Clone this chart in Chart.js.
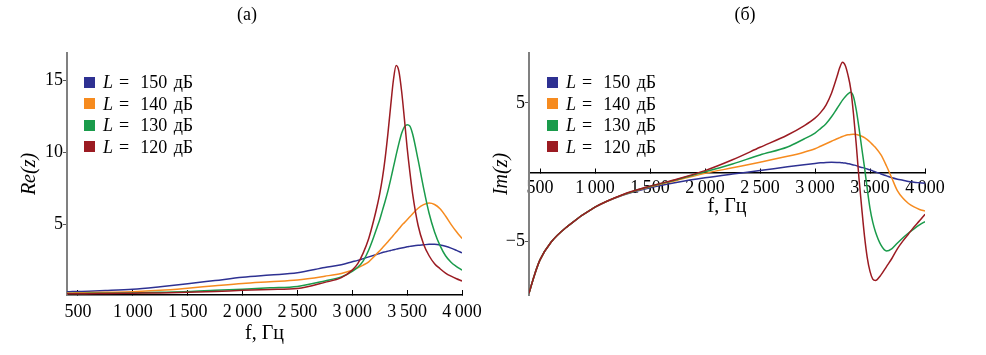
<!DOCTYPE html>
<html><head><meta charset="utf-8">
<script src="https://cdn.jsdelivr.net/npm/chart.js@4.4.1/dist/chart.umd.min.js"></script>
<style>
html,body{margin:0;padding:0;background:#fff;overflow:hidden}
#wrap{position:relative;width:986px;height:355px;background:#fff}
#c1{position:absolute;left:0;top:0}
#c2{position:absolute;left:490px;top:0}
.legend{position:absolute;top:0;font-family:"Liberation Serif",serif;font-size:18px;color:#000}
.row{position:absolute;left:0;height:20px;line-height:20px;white-space:nowrap}
.sw{position:absolute;left:0;top:4.5px;width:11px;height:11px}
.tx{position:absolute;left:19px;top:0;word-spacing:2px}
.eq{margin:0 11px 0 6px}
</style></head>
<body><div id="wrap">
<canvas id="c1" width="490" height="355"></canvas>
<canvas id="c2" width="496" height="355"></canvas>
<div id="lg1" class="legend" style="left:84px"></div>
<div id="lg2" class="legend" style="left:547px"></div>
</div>
<script>
// ---- data ----
const freqs = [400,450,500,600,750,1000,1250,1500,1750,2000,2250,2500,2750,2900,3000,3050,3100,3150,3200,3225,3250,3275,3300,3325,3350,3375,3400,3425,3450,3475,3500,3525,3550,3600,3650,3700,3750,3800,3850,3900,3950,4000];
const levels = [150, 140, 130, 120];
const seriesColors = ['#2E3192', '#F68B1F', '#1A9B4B', '#9B1B22'];

const re150 = [0.3,0.31,0.32,0.34,0.38, 0.47,0.65,0.86,1.08,1.3, 1.46,1.62,1.98,2.18,2.38, 2.48,2.6,2.72,2.84,2.9, 2.96,3.02,3.07,3.12,3.17, 3.21,3.26,3.3,3.34,3.38, 3.42,3.45,3.48,3.53,3.56, 3.59,3.59,3.55,3.46,3.33, 3.17,3.0];
const re140 = [0.22,0.22,0.23,0.24,0.26, 0.3,0.4,0.55,0.72,0.88, 1.0,1.12,1.38,1.57,1.8, 1.96,2.15,2.38,2.75,2.95, 3.15,3.36,3.57,3.78,4.0, 4.22,4.45,4.67,4.9,5.1, 5.3,5.5,5.72,6.1,6.35, 6.46,6.36,6.06,5.56,4.98, 4.46,4.0];
const re130 = [0.18,0.18,0.18,0.19,0.2, 0.22,0.26,0.31,0.4,0.48, 0.57,0.67,1.05,1.33,1.72, 2.0,2.45,3.2,4.2,4.75, 5.3,5.95,6.6,7.3,8.1, 8.95,9.8,10.6,11.3,11.75, 11.9,11.8,11.25,9.45,7.5, 5.75,4.45,3.5,2.8,2.35, 2.05,1.8];
const re120 = [0.16,0.16,0.16,0.17,0.18, 0.2,0.22,0.26,0.32,0.4, 0.46,0.52,0.95,1.28,1.8, 2.25,3.0,4.0,5.4,6.2, 7.1,8.2,9.6,11.3,13.2, 15.0,16.0,15.6,14.2,12.3, 10.3,8.6,7.1,4.9,3.6, 2.8,2.25,1.9,1.6,1.38, 1.2,1.05];

const im150 = [-8.72,-7.4,-6.32,-5.05,-3.9, -2.52,-1.66,-1.12,-0.72,-0.4, -0.13,0.12,0.4,0.55,0.64, 0.68,0.71,0.72,0.71,0.7, 0.68,0.66,0.62,0.58,0.53, 0.48,0.4,0.35,0.3,0.23, 0.17,0.1,0.03,-0.12,-0.26, -0.4,-0.5,-0.58,-0.67,-0.72, -0.76,-0.8];
const im140 = [-8.72,-7.4,-6.32,-5.05,-3.9, -2.52,-1.64,-1.05,-0.57,-0.08, 0.32,0.72,1.15,1.45,1.7, 1.88,2.06,2.24,2.42,2.5, 2.58,2.65,2.7,2.73,2.74, 2.72,2.67,2.6,2.5,2.35, 2.18,1.98,1.78,1.25,0.45, -0.45,-1.35,-1.88,-2.25,-2.5, -2.68,-2.8];
const im130 = [-8.72,-7.4,-6.32,-5.05,-3.9, -2.52,-1.63,-1.02,-0.52,0.04, 0.6,1.25,1.82,2.4,2.83, 3.15,3.5,4.0,4.6,4.9, 5.2,5.45,5.65,5.77,5.45, 4.5,3.2,1.75,0.35,-1.2, -2.6,-3.6,-4.3,-5.25,-5.67, -5.5,-5.1,-4.72,-4.38,-4.08, -3.8,-3.56];
const im120 = [-8.72,-7.4,-6.32,-5.05,-3.9, -2.52,-1.62,-1.0,-0.48,0.12, 0.9,1.8,2.69,3.35,3.9, 4.3,4.85,5.7,6.9,7.55, 7.93,7.7,7.0,6.0,4.2, 2.0,-0.45,-2.6,-4.6,-6.15, -7.15,-7.7,-7.8,-7.4,-6.8, -6.2,-5.5,-4.95,-4.45,-3.95, -3.5,-3.03];

const xTickValues = [500,1000,1500,2000,2500,3000,3500,4000];
const xTickLabels = ['500','1\u2009000','1\u2009500','2\u2009000','2\u2009500','3\u2009000','3\u2009500','4\u2009000'];
const reTickValues = [5,10,15];
const reTickLabels = ['5','10','15'];
const imTickValues = [-5,5];
const imTickLabels = ['\u22125','5'];

const seriesNames = levels.map(l => 'L = ' + l + ' дБ');
const panelTitles = ['(а)', '(б)'];
const yTitles = ['Re(z)', 'Im(z)'];
const xTitle = 'f, Гц';

// ---- rendering ----
const FAM = '"Liberation Serif", "Times New Roman", serif';
Chart.defaults.color = '#000';
Chart.defaults.font.family = FAM;

function datasets(arrs) {
  return arrs.map((vals, i) => ({
    label: seriesNames[i],
    data: freqs.map((f, k) => ({x: f, y: vals[k]})),
    borderColor: seriesColors[i],
    backgroundColor: seriesColors[i],
    borderWidth: 1.5,
    pointRadius: 0,
    fill: false,
    cubicInterpolationMode: 'monotone',
    order: 3 - i
  }));
}

function makeChart(canvas, cfg) {
  return new Chart(canvas, {
    type: 'line',
    data: {datasets: datasets(cfg.series)},
    options: {
      responsive: false,
      animation: false,
      events: [],
      layout: {padding: {left: cfg.padLeft, right: 0, top: 0, bottom: cfg.padBottom}},
      plugins: {
        legend: {display: false},
        tooltip: {enabled: false},
        title: {display: true, text: cfg.title, color: '#000',
          font: {family: FAM, size: 18, weight: 'normal'},
          padding: {top: 4, bottom: 27.4}}
      },
      scales: {
        x: {
          type: 'linear', min: 400, max: 4000,
          position: cfg.xPos,
          afterBuildTicks: s => { s.ticks = xTickValues.map(v => ({value: v})); },
          afterFit: s => { s.height = cfg.xHeight; s.paddingLeft = 0; s.paddingRight = cfg.padRight; },
          ticks: {font: {family: FAM, size: 18}, color: '#000', padding: cfg.xTickPad,
            maxRotation: 0, autoSkip: false,
            callback: v => { const i = xTickValues.indexOf(v); return i >= 0 ? xTickLabels[i] : ''; }},
          grid: {drawOnChartArea: false, drawTicks: true, tickLength: -5, color: '#000', lineWidth: 1},
          border: {display: true, color: '#000', width: 1.5},
          title: {display: true, text: xTitle, color: '#000', font: {family: FAM, size: 20},
            padding: {top: 0, bottom: cfg.xTitlePad}}
        },
        y: {
          type: 'linear', min: cfg.yMin, max: cfg.yMax, position: 'left',
          afterBuildTicks: s => { s.ticks = cfg.yTicks.map(v => ({value: v})); },
          afterFit: s => { s.width = cfg.yWidth; },
          ticks: {font: {family: FAM, size: 18}, color: '#000', padding: 0,
            callback: v => { const i = cfg.yTicks.indexOf(v); return i >= 0 ? cfg.yLabels[i] : ''; }},
          grid: {drawOnChartArea: false, drawTicks: true, tickLength: 4, color: '#555', lineWidth: 1},
          border: {display: true, color: '#808080', width: 2},
          title: {display: true, text: cfg.yTitle, color: '#000',
            font: {family: FAM, size: 20, style: 'italic'},
            padding: {top: cfg.yTitlePad, bottom: 0}}
        }
      }
    }
  });
}

makeChart(document.getElementById('c1'), {
  series: [re150, re140, re130, re120],
  title: panelTitles[0], padLeft: 4, padBottom: 0, padRight: 28,
  xPos: 'bottom', xHeight: 60, xTickPad: 11.2, xTitlePad: 9.5,
  yMin: 0.075, yMax: 16.875, yTicks: reTickValues, yLabels: reTickLabels,
  yWidth: 63, yTitle: yTitles[0], yTitlePad: 14
});

makeChart(document.getElementById('c2'), {
  series: [im150, im140, im130, im120],
  title: panelTitles[1], padLeft: 14, padBottom: 60, padRight: 61,
  xPos: {y: 0}, xHeight: 50, xTickPad: 9.7, xTitlePad: 3.3,
  yMin: -8.85, yMax: 8.6, yTicks: imTickValues, yLabels: imTickLabels,
  yWidth: 25, yTitle: yTitles[1], yTitlePad: -14.3
});

// legends (HTML, real text)
function buildLegend(el) {
  const rowCenters = [82.3, 103.5, 125, 146.5];
  seriesNames.forEach((name, i) => {
    const row = document.createElement('div');
    row.className = 'row';
    row.style.top = (rowCenters[i] - 10) + 'px';
    const sw = document.createElement('span');
    sw.className = 'sw';
    sw.style.background = seriesColors[i];
    const tx = document.createElement('span');
    tx.className = 'tx';
    const rest = name.slice(4);
    tx.innerHTML = '<i>L</i><span class="eq">=</span>' + rest;
    row.appendChild(sw); row.appendChild(tx);
    el.appendChild(row);
  });
}
buildLegend(document.getElementById('lg1'));
buildLegend(document.getElementById('lg2'));
</script>
</body></html>
